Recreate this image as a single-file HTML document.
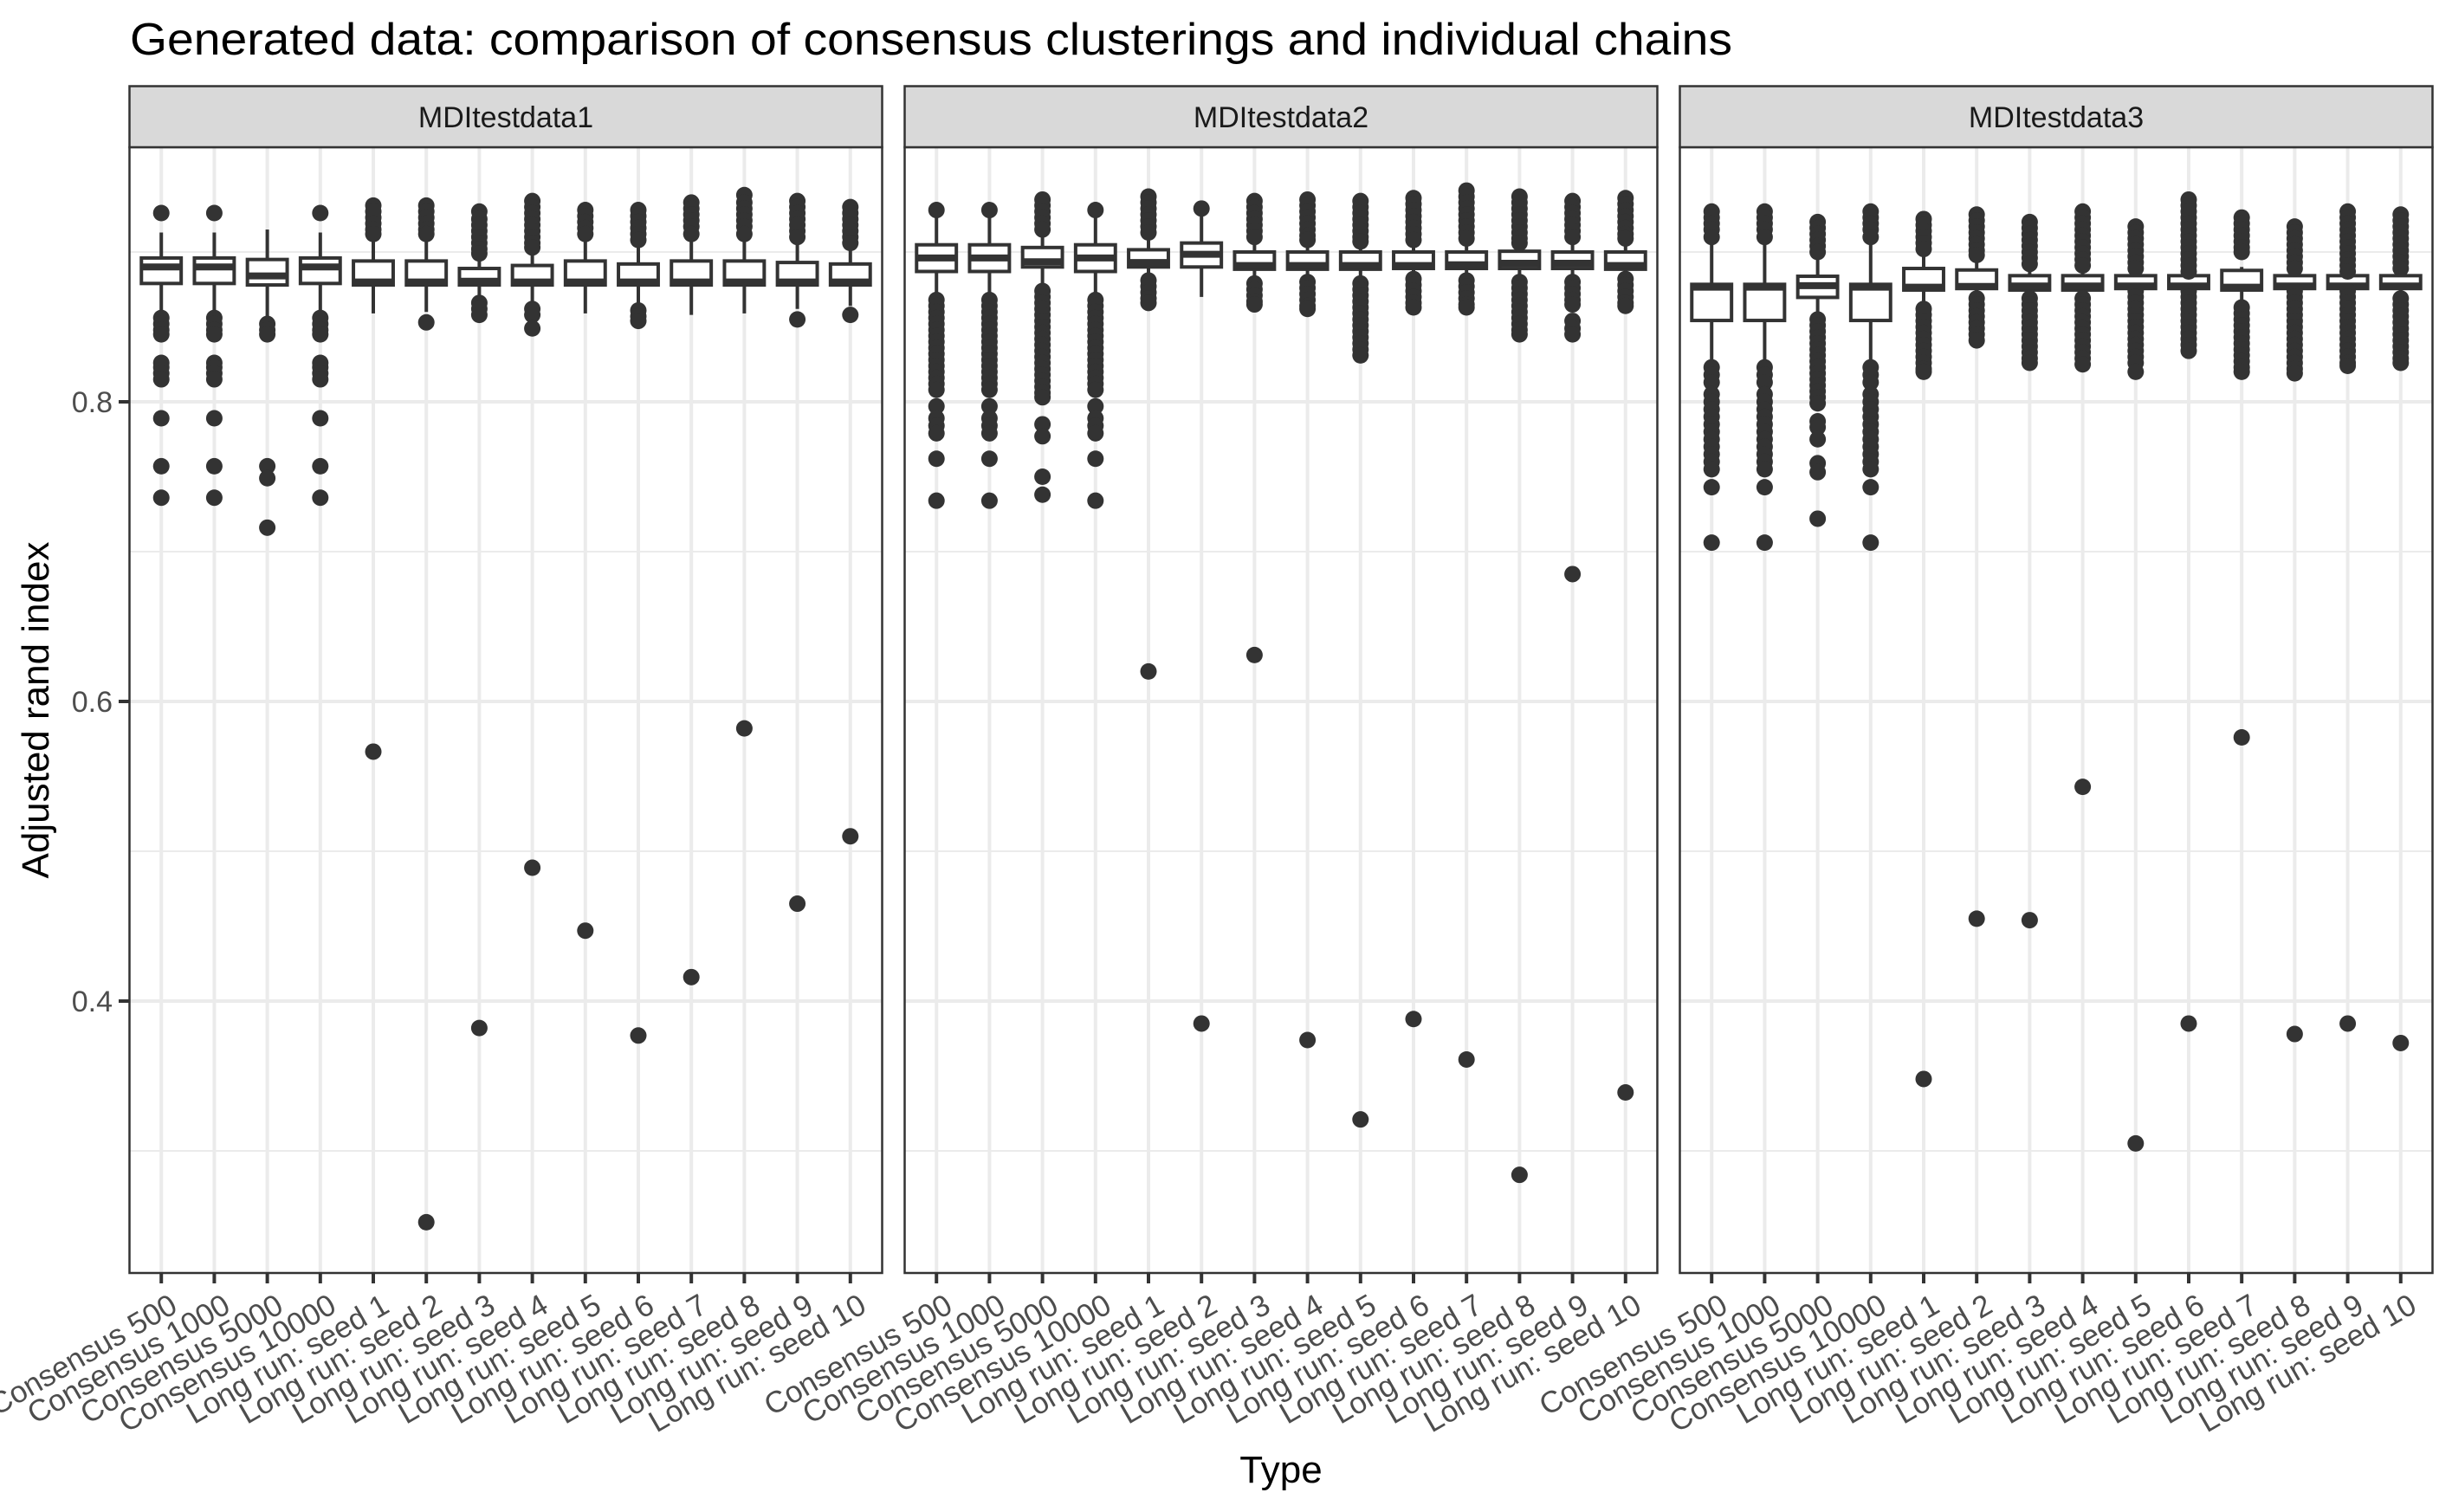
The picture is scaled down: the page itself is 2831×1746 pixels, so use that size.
<!DOCTYPE html>
<html><head><meta charset="utf-8"><title>Consensus clustering comparison</title>
<style>
html,body{margin:0;padding:0;background:#fff;}
svg{display:block;font-family:"Liberation Sans",Arial,sans-serif;}
</style></head>
<body>
<svg id="chart" width="2831" height="1746" viewBox="0 0 2831 1746" xmlns="http://www.w3.org/2000/svg">
<rect width="2831" height="1746" fill="#fff"/>
<text x="150" y="63" font-size="52" fill="#000" textLength="1850" lengthAdjust="spacingAndGlyphs">Generated data: comparison of consensus clusterings and individual chains</text>
<text transform="translate(56,820) rotate(-90)" text-anchor="middle" font-size="44" fill="#000">Adjusted rand index</text>
<text x="1479" y="1712" text-anchor="middle" font-size="44" fill="#000">Type</text>
<g id="plots"></g>
</svg>
<script>
const categories = ["Consensus 500","Consensus 1000","Consensus 5000","Consensus 10000","Long run: seed 1","Long run: seed 2","Long run: seed 3","Long run: seed 4","Long run: seed 5","Long run: seed 6","Long run: seed 7","Long run: seed 8","Long run: seed 9","Long run: seed 10"];
const panelNames = ["MDItestdata1","MDItestdata2","MDItestdata3"];
const yTicks = [0.4, 0.6, 0.8];
const yTickLabels = ["0.4","0.6","0.8"];
const yMinor = [0.3, 0.5, 0.7, 0.9];

const q1_p1  = [.879,.879,.878,.879,.878,.878,.878,.878,.878,.878,.878,.878,.878,.878];
const med_p1 = [.890,.890,.884,.890,.880,.880,.8805,.880,.880,.880,.880,.880,.880,.880];
const q3_p1  = [.896,.896,.895,.896,.894,.894,.889,.891,.894,.892,.894,.894,.893,.892];
const lo_p1  = [.858,.858,.857,.858,.859,.860,.868,.862,.859,.862,.858,.859,.862,.864];
const hi_p1  = [.913,.913,.915,.913,.911,.911,.8977,.902,.909,.905,.909,.909,.909,.904];
const out_p1 = [
 [.926,.856,.852,.848,.845,.826,.823,.819,.815,.789,.757,.736],
 [.926,.856,.852,.848,.845,.826,.823,.819,.815,.789,.757,.736],
 [.852,.848,.845,.757,.749,.716],
 [.926,.856,.852,.848,.845,.826,.823,.819,.815,.789,.757,.736],
 [.931,.927,.923,.919,.915,.912,.5665],
 [.931,.927,.923,.919,.915,.912,.853,.2524],
 [.927,.922,.918,.914,.910,.906,.902,.899,.866,.862,.858,.382],
 [.934,.930,.926,.922,.918,.914,.910,.906,.903,.862,.858,.849,.489],
 [.928,.924,.920,.916,.912,.447],
 [.928,.924,.920,.916,.912,.908,.861,.857,.854,.377],
 [.933,.929,.925,.921,.917,.912,.416],
 [.938,.933,.929,.925,.921,.917,.912,.582],
 [.934,.930,.926,.922,.918,.914,.910,.855,.465],
 [.930,.926,.922,.918,.914,.910,.906,.858,.510]
];

const q1_p2  = [.887,.887,.890,.887,.890,.890,.8885,.8885,.8885,.889,.889,.889,.889,.8885];
const med_p2 = [.896,.896,.8935,.896,.893,.8985,.891,.891,.891,.891,.8915,.8925,.8925,.891];
const q3_p2  = [.9048,.9048,.903,.9048,.9015,.906,.900,.900,.900,.900,.900,.9005,.900,.900];
const lo_p2  = [.869,.869,.875,.869,.882,.870,.880,.880,.880,.882,.881,.880,.880,.882];
const hi_p2  = [.9237,.9237,.914,.9237,.910,.9237,.908,.908,.908,.907,.907,.905,.908,.908];
const out_p2 = [
 [.928,.868,.864,.860,.856,.852,.848,.844,.840,.836,.832,.828,.824,.820,.816,.812,.808,.797,.789,.784,.779,.762,.734],
 [.928,.868,.864,.860,.856,.852,.848,.844,.840,.836,.832,.828,.824,.820,.816,.812,.808,.797,.789,.784,.779,.762,.734],
 [.935,.931,.927,.923,.919,.915,.874,.870,.866,.862,.858,.854,.850,.846,.842,.838,.834,.830,.826,.822,.818,.814,.810,.806,.803,.785,.777,.750,.738],
 [.928,.868,.864,.860,.856,.852,.848,.844,.840,.836,.832,.828,.824,.820,.816,.812,.808,.797,.789,.784,.779,.762,.734],
 [.937,.933,.929,.925,.921,.917,.913,.881,.877,.873,.869,.866,.620],
 [.929,.385],
 [.934,.930,.926,.922,.918,.914,.910,.879,.875,.871,.867,.865,.631],
 [.935,.931,.927,.923,.919,.915,.911,.908,.880,.876,.872,.868,.864,.862,.374],
 [.934,.930,.926,.922,.918,.914,.910,.907,.879,.875,.871,.867,.863,.859,.855,.851,.847,.843,.839,.835,.831,.321],
 [.936,.932,.928,.924,.920,.916,.912,.908,.882,.878,.874,.870,.866,.863,.388],
 [.941,.937,.933,.929,.925,.921,.917,.913,.909,.881,.877,.873,.869,.865,.863,.361],
 [.937,.933,.929,.925,.921,.917,.913,.909,.906,.880,.876,.872,.868,.864,.860,.856,.852,.848,.845,.284],
 [.934,.930,.926,.922,.918,.914,.910,.880,.876,.872,.868,.865,.854,.849,.845,.685],
 [.936,.932,.928,.924,.920,.916,.912,.909,.882,.878,.874,.870,.866,.864,.339]
];

const q1_p3  = [.8543,.8543,.8697,.8543,.8746,.8756,.8746,.8746,.8756,.8756,.8746,.8756,.8756,.8756];
const med_p3 = [.8765,.8765,.8775,.8765,.8765,.877,.8773,.8773,.8773,.8773,.8765,.8773,.8773,.8773];
const q3_p3  = [.8784,.8784,.8838,.8784,.889,.888,.8842,.8842,.8842,.8842,.8877,.8842,.8842,.8842];
const lo_p3  = [.825,.825,.856,.825,.862,.869,.869,.869,.874,.874,.863,.874,.874,.869];
const hi_p3  = [.9083,.9083,.8977,.9083,.9015,.898,.890,.890,.886,.886,.890,.886,.886,.886];
const out_p3 = [
 [.927,.923,.919,.915,.910,.823,.818,.813,.805,.800,.795,.790,.785,.780,.775,.770,.765,.760,.755,.743,.706],
 [.927,.923,.919,.915,.910,.823,.818,.813,.805,.800,.795,.790,.785,.780,.775,.770,.765,.760,.755,.743,.706],
 [.920,.916,.912,.908,.904,.900,.855,.851,.847,.843,.839,.835,.831,.827,.823,.819,.815,.811,.807,.803,.799,.787,.783,.775,.759,.753,.722],
 [.927,.923,.919,.915,.910,.823,.818,.813,.805,.800,.795,.790,.785,.780,.775,.770,.765,.760,.755,.743,.706],
 [.922,.918,.914,.910,.906,.902,.862,.858,.854,.850,.846,.842,.838,.834,.830,.826,.822,.820,.348],
 [.925,.921,.917,.913,.909,.905,.901,.898,.869,.865,.861,.857,.853,.849,.845,.841,.455],
 [.920,.916,.912,.908,.904,.900,.896,.892,.869,.865,.861,.857,.853,.849,.845,.841,.837,.833,.829,.826,.454],
 [.927,.923,.919,.915,.911,.907,.903,.899,.895,.891,.869,.865,.861,.857,.853,.849,.845,.841,.837,.833,.829,.825,.543],
 [.917,.913,.909,.905,.901,.897,.893,.889,.874,.870,.866,.862,.858,.854,.850,.846,.842,.838,.834,.830,.826,.820,.305],
 [.935,.931,.927,.923,.919,.915,.911,.907,.903,.899,.895,.891,.887,.874,.870,.866,.862,.858,.854,.850,.846,.842,.838,.834,.385],
 [.923,.919,.915,.911,.907,.903,.900,.863,.859,.855,.851,.847,.843,.839,.835,.831,.827,.823,.820,.576],
 [.917,.913,.909,.905,.901,.897,.893,.889,.874,.870,.866,.862,.858,.854,.850,.846,.842,.838,.834,.830,.826,.822,.819,.378],
 [.927,.923,.919,.915,.911,.907,.903,.899,.895,.891,.887,.874,.870,.866,.862,.858,.854,.850,.846,.842,.838,.834,.830,.826,.824,.385],
 [.925,.921,.917,.913,.909,.905,.901,.897,.893,.889,.869,.865,.861,.857,.853,.849,.845,.841,.837,.833,.829,.826,.372]
];

const panels = [
 {q1:q1_p1,med:med_p1,q3:q3_p1,lo:lo_p1,hi:hi_p1,out:out_p1},
 {q1:q1_p2,med:med_p2,q3:q3_p2,lo:lo_p2,hi:hi_p2,out:out_p2},
 {q1:q1_p3,med:med_p3,q3:q3_p3,lo:lo_p3,hi:hi_p3,out:out_p3}
];

const NS = "http://www.w3.org/2000/svg";
const root = document.getElementById("plots");
const PT = 170, PB = 1470, PW = 869, PLEFTS = [149.5, 1044.5, 1939.5];
const STRIP_TOP = 99.5;
function yScale(v){ return 464 + (0.8 - v) * 1730; }
function xScale(panelLeft, i){ const step = PW / (categories.length - 1 + 1.2); return panelLeft + step * (0.6 + i); }
function mk(tag, attrs, parent){ const e = document.createElementNS(NS, tag); for (const k in attrs) e.setAttribute(k, attrs[k]); (parent||root).appendChild(e); return e; }

panels.forEach((p, pi) => {
  const L = PLEFTS[pi];
  const g = mk("g", {});
  
  
  const bg = mk("rect", {x:L, y:PT, width:PW, height:PB-PT, fill:"#fff"}, g);
  
  
  yMinor.forEach(v => {
    const l = mk("line", {x1:L, x2:L+PW, y1:yScale(v), y2:yScale(v), stroke:"#ebebeb", "stroke-width":2}, g);
    
    
  });
  yTicks.forEach(v => {
    const l = mk("line", {x1:L, x2:L+PW, y1:yScale(v), y2:yScale(v), stroke:"#ebebeb", "stroke-width":4}, g);
    
    
  });
  categories.forEach((c, i) => {
    const x = xScale(L, i);
    const l = mk("line", {x1:x, x2:x, y1:PT, y2:PB, stroke:"#ebebeb", "stroke-width":4}, g);
    
    
  });
  const bw = PW / 14.2 * 0.75;
  categories.forEach((c, i) => {
    const x = xScale(L, i);
    const bx = mk("g", {}, g);
    
    
    const w1 = mk("line", {x1:x, x2:x, y1:yScale(p.hi[i]), y2:yScale(p.q3[i]), stroke:"#333", "stroke-width":4}, bx);
    
    
    const w2 = mk("line", {x1:x, x2:x, y1:yScale(p.q1[i]), y2:yScale(p.lo[i]), stroke:"#333", "stroke-width":4}, bx);
    
    
    const r = mk("rect", {x:x-bw/2, y:yScale(p.q3[i]), width:bw, height:yScale(p.q1[i])-yScale(p.q3[i]), fill:"#fff", stroke:"#333", "stroke-width":4}, bx);
    
    
    const m = mk("line", {x1:x-bw/2, x2:x+bw/2, y1:yScale(p.med[i]), y2:yScale(p.med[i]), stroke:"#333", "stroke-width":8}, bx);
    
    
    p.out[i].forEach(v => {
      const d = mk("circle", {cx:x, cy:yScale(v), r:9.5, fill:"#333"}, bx);
      
      
    });
    const t = mk("line", {x1:x, x2:x, y1:PB, y2:PB+12, stroke:"#333", "stroke-width":4}, g);
    
    
    const lab = mk("text", {transform:"translate(" + (x+8) + "," + (PB+22) + ") rotate(-30)", "text-anchor":"end", "font-size":35, fill:"#4d4d4d", dy:"0.72em"}, g);
    lab.textContent = c;
    
    
  });
  const border = mk("rect", {x:L, y:PT, width:PW, height:PB-PT, fill:"none", stroke:"#333", "stroke-width":2.5}, g);
  
  
  const strip = mk("rect", {x:L, y:STRIP_TOP, width:PW, height:PT-STRIP_TOP, fill:"#d9d9d9", stroke:"#333", "stroke-width":2.5}, g);
  
  
  const st = mk("text", {x:L+PW/2, y:(STRIP_TOP+PT)/2 + 12, "text-anchor":"middle", "font-size":34, fill:"#1a1a1a"}, g);
  st.textContent = panelNames[pi];
  
  
});

yTicks.forEach((v, k) => {
  const t = mk("line", {x1:137, x2:149.5, y1:yScale(v), y2:yScale(v), stroke:"#333", "stroke-width":4});
  
  
  const lab = mk("text", {x:130, y:yScale(v)+12, "text-anchor":"end", "font-size":34, fill:"#4d4d4d"});
  lab.textContent = yTickLabels[k];
  
  
});
</script>
</body></html>
